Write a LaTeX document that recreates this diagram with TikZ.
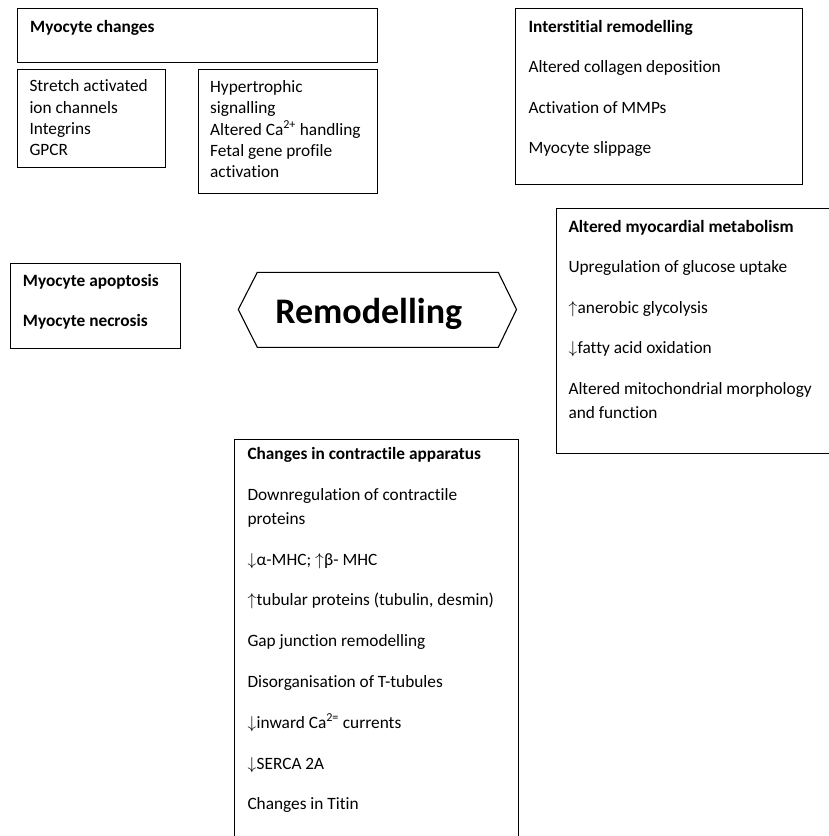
\documentclass[tikz,border=0pt]{standalone}
\usepackage{fontspec}
\setmainfont[Ligatures=NoCommon]{Carlito}
\newcommand{\up}{$\uparrow$\kern0.5pt}
\newcommand{\dn}{$\downarrow$\kern0.5pt}
\begin{document}
\begin{tikzpicture}[x=1pt,y=-1pt,
  box/.style={draw, line width=1.1pt, rectangle, anchor=north west, inner sep=0pt},
  txt/.style={anchor=base west, inner sep=0pt, font=\fontsize{17.3}{21}\selectfont},
  hd/.style={anchor=base west, inner sep=0pt, font=\fontsize{17.3}{21}\selectfont\bfseries},
  hexline/.style={draw, line width=1.1pt, line join=miter}]
\useasboundingbox (0,0) rectangle (829,836);

% boxes
\node[box, minimum width=360.6pt, minimum height=53.4pt] (mc) at (16.7,8.3) {};
\node[box, minimum width=148pt, minimum height=98.3pt] (sa) at (16.7,69) {};
\node[box, minimum width=179pt, minimum height=124pt] (ht) at (197.7,69.3) {};
\node[box, minimum width=286.7pt, minimum height=176pt] (ir) at (515,8.3) {};
\node[box, minimum width=290pt, minimum height=245pt] (mm) at (555.5,208.3) {};
\node[box, minimum width=170.3pt, minimum height=85pt] (ap) at (10,262.7) {};
\node[box, minimum width=284pt, minimum height=420pt] (ca) at (233.5,439.3) {};

% hexagon
\coordinate (h1) at (238.3,309.5);
\coordinate (h2) at (257.3,272.3);
\coordinate (h3) at (498.3,272.3);
\coordinate (h4) at (516.5,309.5);
\coordinate (h5) at (498.3,347.3);
\coordinate (h6) at (257.3,347.3);
\draw[hexline] (h1) -- (h2) -- (h3) -- (h4) -- (h5) -- (h6) -- cycle;
\node[anchor=base, inner sep=0pt, font=\fontsize{36}{40}\selectfont\bfseries] (rem) at (368.7,323.3) {Remodelling};

% Myocyte changes
\node[hd] (mct) at (30,32) {Myocyte changes};
\node[txt] (sa1) at (29.3,91.7) {Stretch activated};
\node[txt] (sa2) at (29.3,113) {ion channels};
\node[txt] (sa3) at (29.3,134.3) {Integrins};
\node[txt] (sa4) at (29.3,155.6) {GPCR};
\node[txt] (ht1) at (210,92.3) {Hypertrophic};
\node[txt] (ht2) at (210,113.6) {signalling};
\node[txt] (ht3) at (210,135) {Altered Ca\textsuperscript{2+} handling};
\node[txt] (ht4) at (210,156.3) {Fetal gene profile};
\node[txt] (ht5) at (210,177.6) {activation};

% Interstitial remodelling
\node[hd] (ir0) at (528.3,32.3) {Interstitial remodelling};
\node[txt] (ir1) at (528.3,72.8) {Altered collagen deposition};
\node[txt] (ir2) at (528.3,113.3) {Activation of MMPs};
\node[txt] (ir3) at (528.3,153.8) {Myocyte slippage};

% Altered myocardial metabolism
\node[hd] (mm0) at (568.3,232.3) {Altered myocardial metabolism};
\node[txt] (mm1) at (568.3,272.8) {Upregulation of glucose uptake};
\node[txt] (mm2) at (568.3,313.3) {\up anerobic glycolysis};
\node[txt] (mm3) at (568.3,353.8) {\dn fatty acid oxidation};
\node[txt] (mm4) at (568.3,394.3) {Altered mitochondrial morphology};
\node[txt] (mm5) at (568.3,418.3) {and function};

% Apoptosis
\node[hd] (ap1) at (22.7,286.7) {Myocyte apoptosis};
\node[hd] (ap2) at (22.7,326.7) {Myocyte necrosis};

% Contractile apparatus
\node[hd] (ca0) at (247.3,459.5) {Changes in contractile apparatus};
\node[txt] (ca1) at (247.3,500.3) {Downregulation of contractile};
\node[txt] (ca2) at (247.3,524.3) {proteins};
\node[txt] (ca3) at (247.3,565) {\dn α-MHC; \up β- MHC};
\node[txt] (ca4) at (247.3,605.8) {\up tubular proteins (tubulin, desmin)};
\node[txt] (ca5) at (247.3,646.6) {Gap junction remodelling};
\node[txt] (ca6) at (247.3,687.4) {Disorganisation of T-tubules};
\node[txt] (ca7) at (247.3,728.2) {\dn inward Ca\textsuperscript{2=} currents};
\node[txt] (ca8) at (247.3,769) {\dn SERCA 2A};
\node[txt] (ca9) at (247.3,809.8) {Changes in Titin};
\end{tikzpicture}
\end{document}
